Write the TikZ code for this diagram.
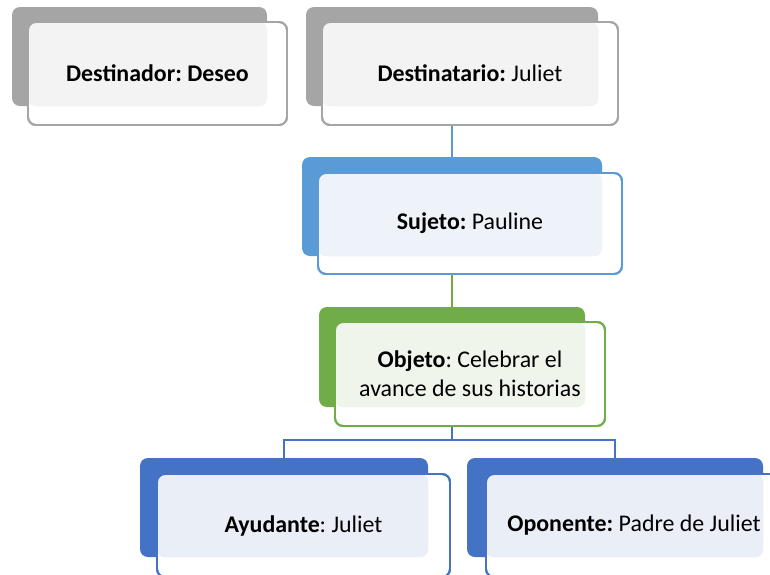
\documentclass[tikz,border=0pt]{standalone}
\usepackage{fontspec}
\setmainfont{Carlito}
\usetikzlibrary{calc}

\definecolor{grisA}{HTML}{A5A5A5}
\definecolor{grisB}{HTML}{F3F3F3}
\definecolor{azulA}{HTML}{5B9BD5}
\definecolor{azulB}{HTML}{EEF3FA}
\definecolor{verdeA}{HTML}{70AD47}
\definecolor{verdeB}{HTML}{EFF5EA}
\definecolor{marinoA}{HTML}{4472C4}
\definecolor{marinoB}{HTML}{E9EEF7}

\tikzset{
  caja/.style 2 args={rectangle, rounded corners=0.2cm, inner sep=0pt,
    minimum width=#1*0.025cm, minimum height=#2*0.025cm},
  fondo/.style={fill=#1},
  frente/.style={draw=#1, fill=white, line width=1.4pt, align=center,
    font=\fontsize{17}{20.5}\selectfont\frenchspacing},
  enlace/.style={draw=#1, line width=1.1pt}
}

\begin{document}
\begin{tikzpicture}[x=0.025cm, y=-0.025cm]
\useasboundingbox (0,0) rectangle (770,574);

% cajas de fondo
\node[caja={255}{99}, fondo=grisA] (dorb) at (139.5,56.5) {};
\node[caja={292}{99}, fondo=grisA] (dtrb) at (452,56.5) {};
\node[caja={300}{99}, fondo=azulA] (sujb) at (452,206.5) {};
\node[caja={266}{100}, fondo=verdeA] (objb) at (452,357) {};
\node[caja={288}{99}, fondo=marinoA] (ayub) at (284,507.5) {};
\node[caja={296}{99}, fondo=marinoA] (opob) at (615,507.5) {};

% enlaces
\coordinate (rama) at (452,440);
\draw[enlace=azulA] (dtrb.south) -- (sujb.north);
\draw[enlace=verdeA] (sujb.south) -- (objb.north);
\draw[enlace=marinoA] (objb.south) -- (rama) -| (ayub.north);
\draw[enlace=marinoA] (rama) -| (opob.north);

% cajas de frente
\node[caja={259}{103}, frente=grisA] (dorf) at (157.5,73.5) {};
\fill[grisB, rounded corners=0.2cm] ([shift={(0.7pt,-0.7pt)}]dorf.north west) rectangle (dorb.south east);
\node[caja={259}{103}, frente=grisA, fill=none] (dort) at (dorf) {\textbf{Destinador: Deseo}};

\node[caja={296}{103}, frente=grisA] (dtrf) at (470,73.5) {};
\fill[grisB, rounded corners=0.2cm] ([shift={(0.7pt,-0.7pt)}]dtrf.north west) rectangle (dtrb.south east);
\node[caja={296}{103}, frente=grisA, fill=none] (dtrt) at (dtrf) {\textbf{Destinatario:} Juliet};

\node[caja={304}{101}, frente=azulA] (sujf) at (470,223.5) {};
\fill[azulB, rounded corners=0.2cm] ([shift={(0.7pt,-0.7pt)}]sujf.north west) rectangle (sujb.south east);
\node[caja={304}{101}, frente=azulA, fill=none] (sujt) at (sujf) {\textbf{Sujeto:} Pauline};

\node[caja={270}{104}, frente=verdeA] (objf) at (470,374) {};
\fill[verdeB, rounded corners=0.2cm] ([shift={(0.7pt,-0.7pt)}]objf.north west) rectangle (objb.south east);
\node[caja={270}{104}, frente=verdeA, fill=none] (objt) at (objf) {\textbf{Objeto}: Celebrar el\\avance de sus historias};

\node[caja={293}{103}, frente=marinoA] (ayuf) at (303.5,525.5) {};
\fill[marinoB, rounded corners=0.2cm] ([shift={(0.7pt,-0.7pt)}]ayuf.north west) rectangle (ayub.south east);
\node[caja={293}{103}, frente=marinoA, fill=none] (ayut) at (ayuf) {\textbf{Ayudante}: Juliet};

\node[caja={296}{103}, frente=marinoA] (opof) at (634,525.5) {};
\fill[marinoB, rounded corners=0.2cm] ([shift={(0.7pt,-0.7pt)}]opof.north west) rectangle (opob.south east);
\node[caja={296}{103}, frente=marinoA, fill=none] (opot) at (opof) {\textbf{Oponente:} Padre de Juliet};
\end{tikzpicture}
\end{document}
